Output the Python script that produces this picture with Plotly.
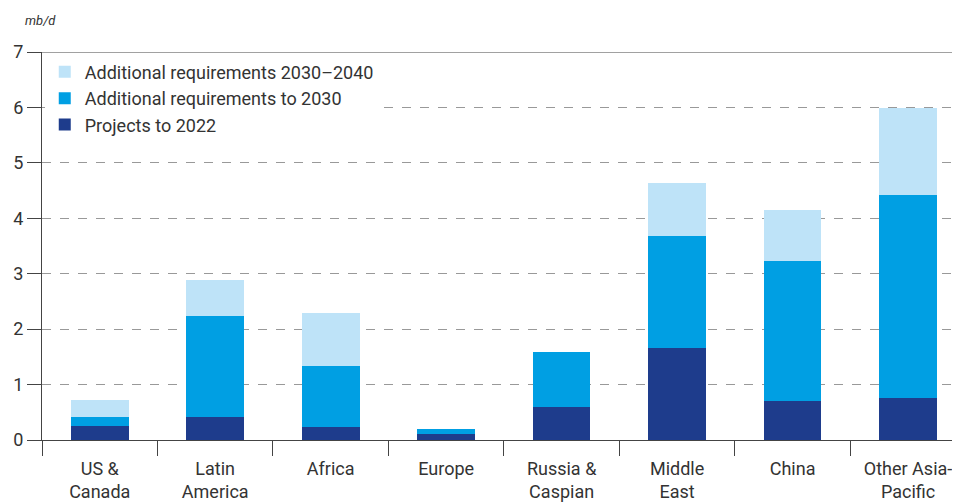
import plotly.graph_objects as go

regions = ["US &<br>Canada", "Latin<br>America", "Africa", "Europe", "Russia &<br>Caspian",
           "Middle<br>East", "China", "Other Asia-<br>Pacific"]

# mb/d
projects_2022 = [0.26, 0.41, 0.24, 0.10, 0.60, 1.66, 0.70, 0.76]
additional_2030 = [0.16, 1.83, 1.10, 0.09, 0.99, 2.02, 2.53, 3.66]
additional_2040 = [0.30, 0.65, 0.95, 0.00, 0.00, 0.96, 0.92, 1.57]

fig = go.Figure()
fig.add_trace(go.Bar(name="Projects to 2022", x=regions, y=projects_2022,
                     marker=dict(color="#1e3c8c", line=dict(width=0))))
fig.add_trace(go.Bar(name="Additional requirements to 2030", x=regions, y=additional_2030,
                     marker=dict(color="#009fe3", line=dict(width=0))))
fig.add_trace(go.Bar(name="Additional requirements 2030\u20132040", x=regions, y=additional_2040,
                     marker=dict(color="#bee3f8", line=dict(width=0))))

# page body adds an 8px margin, so the figure is 8px smaller and margins shifted
fig.update_layout(
    width=952, height=494,
    margin=dict(l=34, r=0, t=44, b=62),
    barmode="stack", bargap=0.5,
    plot_bgcolor="white", paper_bgcolor="white",
    font=dict(family="Roboto, sans-serif", size=18, color="#333333"),
    legend=dict(x=0.003, y=0.996, xanchor="left", yanchor="top", bgcolor="white",
                traceorder="reversed", font=dict(size=18), tracegroupgap=0),
    xaxis=dict(range=[-0.5, 7.45], showline=True, linecolor="#444444", linewidth=1,
               ticks="outside", tickson="boundaries", ticklen=15, tickcolor="#444444",
               ticklabelstandoff=12,
               showgrid=False, tickfont=dict(size=18), automargin=False),
    yaxis=dict(range=[0, 7], dtick=1, showline=True, linecolor="#444444", linewidth=1,
               ticks="outside", ticklen=14, tickcolor="#444444",
               showgrid=True, gridcolor="#999999", griddash="dash", gridwidth=1,
               zeroline=False, tickfont=dict(size=18), automargin=False),
    showlegend=True,
)

# solid top frame line at 7
fig.add_shape(type="line", xref="paper", yref="y", x0=0, x1=1, y0=7, y1=7,
              line=dict(color="#444444", width=1))

fig.add_annotation(text="<i>mb/d</i>", xref="paper", yref="paper",
                   x=-19 / 918, y=1 + 32 / 388, xanchor="left", yanchor="middle",
                   showarrow=False, font=dict(size=13, color="#333333"))

fig.write_html("out.html")
